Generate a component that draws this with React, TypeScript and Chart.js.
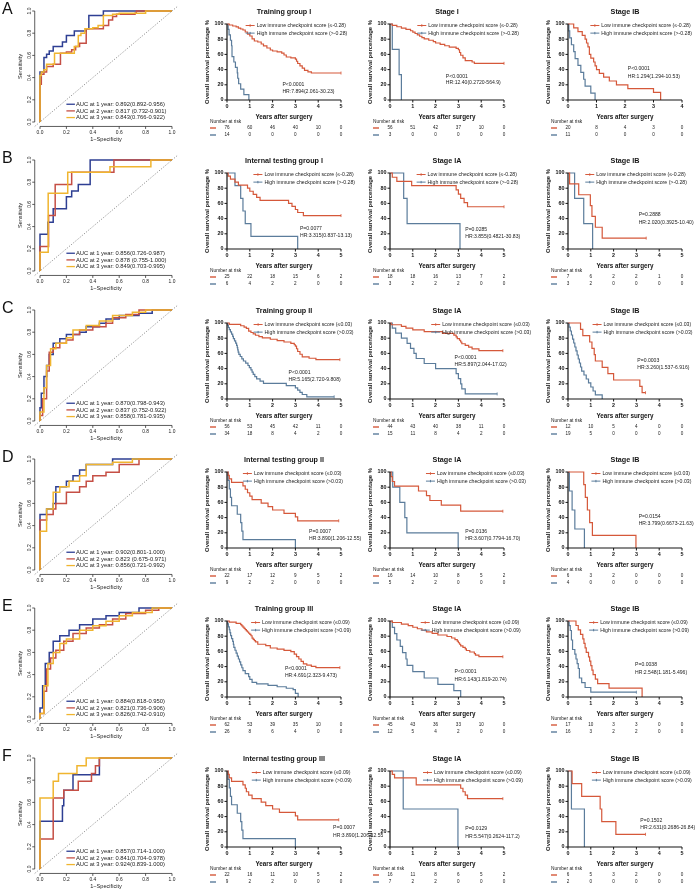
import React, { useEffect, useRef } from 'react';
import { Chart, registerables } from 'chart.js';
Chart.register(...registerables);

type Pt = [number, number];

// ---------------- DATA ----------------
const ROW_LETTERS = ['A', 'B', 'C', 'D', 'E', 'F'];
const ROC_TICKS = [0, 0.2, 0.4, 0.6, 0.8, 1];
const ROC_TICK_LABELS = ['0.0', '0.2', '0.4', '0.6', '0.8', '1.0'];
const KM_Y_TICKS = [0, 20, 40, 60, 80, 100];
const X_TICKS_5 = [0, 1, 2, 3, 4, 5];
const X_TICKS_4 = [0, 1, 2, 3, 4];
const ROC_DIAG: Pt[] = [[-0.04, -0.04], [1.04, 1.04]];

// ROC curves (1-specificity, sensitivity)
const ROC_A_1Y: Pt[] = [[0,0],[0,0.45],[0.03,0.58],[0.05,0.61],[0.07,0.64],[0.1,0.68],[0.17,0.72],[0.2,0.78],[0.26,0.82],[0.35,0.84],[0.37,0.96],[0.48,1],[1,1]];
const ROC_A_2Y: Pt[] = [[0,0],[0,0.34],[0.01,0.43],[0.03,0.45],[0.05,0.5],[0.1,0.52],[0.155,0.62],[0.2,0.63],[0.24,0.65],[0.27,0.68],[0.3,0.71],[0.35,0.84],[0.48,0.87],[0.52,0.92],[0.55,0.95],[0.58,0.97],[0.72,0.98],[0.73,1],[1,1]];
const ROC_A_3Y: Pt[] = [[0,0],[0,0.42],[0.01,0.45],[0.03,0.47],[0.05,0.52],[0.11,0.62],[0.26,0.68],[0.29,0.78],[0.31,0.8],[0.34,0.84],[0.4,0.85],[0.44,0.87],[0.48,0.96],[0.55,0.97],[0.6,0.98],[0.8,1],[1,1]];
const AUC_A = ['AUC at 1 year: 0.892(0.892-0.956)', 'AUC at 2 year: 0.817 (0.732-0.901)', 'AUC at 3 year: 0.843(0.766-0.922)'];

const ROC_B_1Y: Pt[] = [[0,0],[0,0.33],[0.06,0.44],[0.1,0.56],[0.2,0.67],[0.24,0.72],[0.29,0.78],[0.38,1],[1,1]];
const ROC_B_2Y: Pt[] = [[0,0],[0,0.22],[0.065,0.5],[0.115,0.78],[0.24,0.89],[0.56,1],[1,1]];
const ROC_B_3Y: Pt[] = [[0,0],[0,0.17],[0.062,0.7],[0.21,0.89],[0.53,0.94],[0.84,1],[1,1]];
const AUC_B = ['AUC at 1 year: 0.856(0.726-0.987)', 'AUC at 2 year: 0.878 (0.755-1.000)', 'AUC at 3 year: 0.849(0.703-0.995)'];

const ROC_C_1Y: Pt[] = [[0,0],[0,0.12],[0.01,0.25],[0.03,0.4],[0.05,0.5],[0.07,0.6],[0.1,0.7],[0.15,0.74],[0.2,0.78],[0.3,0.8],[0.35,0.85],[0.45,0.88],[0.5,0.92],[0.6,0.95],[0.75,0.97],[0.85,1],[1,1]];
const ROC_C_2Y: Pt[] = [[0,0],[0,0.05],[0.02,0.2],[0.05,0.45],[0.07,0.62],[0.1,0.66],[0.15,0.7],[0.2,0.73],[0.25,0.78],[0.3,0.82],[0.4,0.85],[0.5,0.88],[0.55,0.93],[0.65,0.96],[0.75,1],[1,1]];
const ROC_C_3Y: Pt[] = [[0,0],[0,0.08],[0.03,0.3],[0.05,0.5],[0.08,0.65],[0.12,0.7],[0.2,0.75],[0.25,0.82],[0.35,0.86],[0.45,0.9],[0.55,0.95],[0.7,0.98],[0.8,1],[1,1]];
const AUC_C = ['AUC at 1 year: 0.870(0.798-0.943)', 'AUC at 2 year: 0.837 (0.752-0.922)', 'AUC at 3 year: 0.858(0.781-0.935)'];

const ROC_D_1Y: Pt[] = [[0,0],[0,0.5],[0.05,0.55],[0.1,0.6],[0.12,0.75],[0.2,0.8],[0.25,0.85],[0.3,0.9],[0.35,0.95],[0.55,1],[1,1]];
const ROC_D_2Y: Pt[] = [[0,0],[0,0.45],[0.05,0.5],[0.1,0.55],[0.12,0.6],[0.2,0.7],[0.3,0.75],[0.35,0.8],[0.4,0.85],[0.5,0.88],[0.6,0.95],[0.75,1],[1,1]];
const ROC_D_3Y: Pt[] = [[0,0],[0,0.35],[0.05,0.55],[0.1,0.7],[0.15,0.75],[0.22,0.8],[0.3,0.85],[0.35,0.95],[0.55,0.97],[0.7,1],[1,1]];
const AUC_D = ['AUC at 1 year: 0.902(0.801-1.000)', 'AUC at 2 year: 0.823 (0.675-0.971)', 'AUC at 3 year: 0.856(0.721-0.992)'];

const ROC_E_1Y: Pt[] = [[0,0],[0,0.1],[0.02,0.3],[0.04,0.5],[0.07,0.6],[0.1,0.7],[0.15,0.75],[0.22,0.8],[0.3,0.85],[0.4,0.9],[0.5,0.93],[0.6,0.96],[0.75,1],[1,1]];
const ROC_E_2Y: Pt[] = [[0,0],[0,0.05],[0.03,0.25],[0.05,0.45],[0.08,0.55],[0.12,0.62],[0.18,0.7],[0.25,0.77],[0.35,0.82],[0.45,0.85],[0.55,0.9],[0.65,0.95],[0.8,0.98],[0.9,1],[1,1]];
const ROC_E_3Y: Pt[] = [[0,0],[0,0.05],[0.03,0.3],[0.06,0.5],[0.1,0.6],[0.15,0.68],[0.2,0.72],[0.3,0.8],[0.4,0.84],[0.5,0.88],[0.6,0.93],[0.7,0.96],[0.85,1],[1,1]];
const AUC_E = ['AUC at 1 year: 0.884(0.818-0.950)', 'AUC at 2 year: 0.821(0.736-0.906)', 'AUC at 3 year: 0.826(0.742-0.910)'];

const ROC_F_1Y: Pt[] = [[0,0],[0,0.43],[0.1,0.43],[0.17,0.57],[0.18,0.71],[0.25,0.85],[0.45,1],[1,1]];
const ROC_F_2Y: Pt[] = [[0,0],[0,0.27],[0.1,0.64],[0.18,0.71],[0.29,0.79],[0.39,0.86],[0.42,0.93],[0.45,1],[1,1]];
const ROC_F_3Y: Pt[] = [[0,0],[0,0.64],[0.1,0.79],[0.14,0.86],[0.28,0.93],[0.35,1],[1,1]];
const AUC_F = ['AUC at 1 year: 0.857(0.714-1.000)', 'AUC at 2 year: 0.841(0.704-0.978)', 'AUC at 3 year: 0.924(0.839-1.000)'];

// Kaplan-Meier curves (years, survival %)
const A1_LOW: Pt[] = [[0,100],[0.1,98.7],[0.25,97.4],[0.4,96.1],[0.5,94.7],[0.6,93.4],[0.7,92.1],[0.8,89.5],[0.9,86.8],[1.0,84.2],[1.1,80.3],[1.2,77.6],[1.35,76.3],[1.5,73.7],[1.6,71.1],[1.75,68.4],[1.9,65.8],[2.0,64.5],[2.2,63.2],[2.4,61.8],[2.5,59.2],[2.6,56.6],[2.8,55.3],[3.0,53.9],[3.05,51],[3.1,48],[3.2,45],[3.3,42],[3.4,39],[3.55,37],[3.7,35.5],[5,35.5]];
const A1_HIGH: Pt[] = [[0,100],[0.05,92.9],[0.09,85.7],[0.15,78.6],[0.2,71.4],[0.22,57.1],[0.3,50],[0.37,42.9],[0.45,35.7],[0.47,28.6],[0.51,21.4],[0.6,14.3],[0.74,7.1],[0.96,0]];
const A1_RISK_LOW = [76, 60, 46, 40, 10, 0];
const A1_RISK_HIGH = [14, 0, 0, 0, 0, 0];
const A2_LOW: Pt[] = [[0,100],[0.1,98.2],[0.3,96.4],[0.5,94.6],[0.7,92.9],[0.9,91.1],[1.0,89.3],[1.1,87.5],[1.2,85.7],[1.3,83.9],[1.4,82.1],[1.5,80.4],[1.7,78.6],[1.9,76.8],[2.0,75],[2.2,73.2],[2.4,71.4],[2.6,69.6],[2.9,67.9],[3.0,66.1],[3.05,62.5],[3.1,58.9],[3.2,55.4],[3.3,51.8],[3.6,50],[3.7,48.2],[5,48.2]];
const A2_HIGH: Pt[] = [[0,100],[0.1,66.7],[0.4,33.3],[0.5,0]];
const A2_RISK_LOW = [56, 51, 42, 37, 10, 0];
const A2_RISK_HIGH = [3, 0, 0, 0, 0, 0];
const A3_LOW: Pt[] = [[0,100],[0.2,95],[0.35,90],[0.5,85],[0.6,80],[0.65,75],[0.7,70],[0.75,60],[0.8,55],[0.9,50],[0.95,45],[1.0,40],[1.1,35],[1.25,30],[1.45,25],[1.7,20],[2.1,15],[3.0,10],[3.25,0]];
const A3_HIGH: Pt[] = [[0,100],[0.03,90.9],[0.06,81.8],[0.12,72.7],[0.2,63.6],[0.25,54.5],[0.35,45.5],[0.45,36.4],[0.55,27.3],[0.6,18.2],[0.8,9.1],[0.95,0]];
const A3_RISK_LOW = [20, 8, 4, 3, 0];
const A3_RISK_HIGH = [11, 0, 0, 0, 0];

const B1_LOW: Pt[] = [[0,100],[0.05,96],[0.15,92],[0.35,88],[0.5,84],[0.9,80],[1.0,76],[1.15,72],[1.3,68],[1.45,64],[2.7,60],[2.85,56],[3.0,52],[3.1,48],[3.35,44],[5,44]];
const B1_HIGH: Pt[] = [[0,100],[0.35,83.3],[0.6,66.7],[0.7,50],[0.8,33.3],[1.05,16.7],[3.1,0]];
const B1_RISK_LOW = [25, 22, 18, 15, 6, 2];
const B1_RISK_HIGH = [6, 4, 2, 2, 0, 0];
const B2_LOW: Pt[] = [[0,100],[0.1,94.4],[0.3,88.9],[0.95,83.3],[2.9,77.8],[3.0,72.2],[3.1,66.7],[3.25,61.1],[3.4,55.6],[5,55.6]];
const B2_HIGH: Pt[] = [[0,100],[0.6,66.7],[0.75,33.3],[3.07,0]];
const B2_RISK_LOW = [18, 18, 16, 13, 7, 2];
const B2_RISK_HIGH = [3, 2, 2, 2, 0, 0];
const B3_LOW: Pt[] = [[0,100],[0.07,85.7],[0.47,71.4],[0.98,57.1],[1.05,42.9],[1.2,28.6],[1.5,14.3],[3.43,14.3]];
const B3_HIGH: Pt[] = [[0,100],[0.29,66.7],[0.69,33.3],[1.08,0]];
const B3_RISK_LOW = [7, 6, 2, 2, 1, 0];
const B3_RISK_HIGH = [3, 2, 0, 0, 0, 0];

const C1_LOW: Pt[] = [[0,100],[0.1,98.2],[0.6,96.4],[0.75,94.6],[0.85,92.9],[0.95,89.3],[1.05,87.5],[1.15,85.7],[1.25,83.9],[1.4,82.1],[1.55,80.4],[1.9,78.6],[2.2,76.8],[2.5,75],[2.8,73.2],[2.95,71.4],[3.0,69.6],[3.05,66.1],[3.1,62.5],[3.2,58.9],[3.3,55.4],[3.6,53.6],[3.9,51.8],[4.95,51.8]];
const C1_HIGH: Pt[] = [[0,100],[0.03,97.1],[0.06,94.1],[0.1,91.2],[0.15,88.2],[0.2,85.3],[0.25,82.4],[0.28,79.4],[0.33,76.5],[0.38,73.5],[0.42,70.6],[0.45,67.6],[0.47,64.7],[0.49,61.8],[0.52,58.8],[0.58,55.9],[0.65,52.9],[0.72,50],[0.82,47.1],[0.92,44.1],[0.98,41.2],[1.05,38.2],[1.1,35.3],[1.15,32.4],[1.22,29.4],[1.3,26.5],[1.45,23.5],[1.6,20.6],[2.6,17.6],[3.0,14.7],[3.1,11.8],[3.2,8.8],[3.3,5.9],[3.5,2.9],[4.7,2.9]];
const C1_RISK_LOW = [56, 53, 45, 42, 11, 0];
const C1_RISK_HIGH = [34, 18, 8, 4, 2, 0];
const C2_LOW: Pt[] = [[0,100],[0.05,97.7],[0.5,95.5],[0.7,93.2],[1.0,90.9],[1.5,88.6],[2.3,86.4],[2.8,84.1],[2.9,81.8],[2.95,79.5],[3.05,77.3],[3.1,75],[3.15,72.7],[3.3,70.5],[3.45,68.2],[3.6,65.9],[3.9,63.6],[4.95,63.6]];
const C2_HIGH: Pt[] = [[0,100],[0.1,93.3],[0.25,86.7],[0.5,80],[0.75,73.3],[0.9,66.7],[1.05,60],[1.15,53.3],[1.5,46.7],[2.0,40],[2.9,33.3],[3.0,26.7],[3.1,20],[3.15,13.3],[3.3,6.7],[4.7,6.7]];
const C2_RISK_LOW = [44, 43, 40, 38, 11, 0];
const C2_RISK_HIGH = [15, 11, 8, 4, 2, 0];
const C3_LOW: Pt[] = [[0,100],[0.55,91.7],[0.65,83.3],[0.95,75],[1.05,66.7],[1.15,58.3],[1.2,50],[1.5,41.7],[1.75,33.3],[2.0,25],[3.15,16.7],[3.25,8.3],[3.4,8.3]];
const C3_HIGH: Pt[] = [[0,100],[0.05,94.7],[0.1,89.5],[0.15,84.2],[0.2,78.9],[0.25,73.7],[0.3,68.4],[0.35,63.2],[0.4,57.9],[0.45,52.6],[0.5,47.4],[0.55,42.1],[0.6,36.8],[0.7,31.6],[0.8,26.3],[0.9,21.1],[1.0,15.8],[1.1,10.5],[1.2,5.3],[1.5,0]];
const C3_RISK_LOW = [12, 10, 5, 4, 0, 0];
const C3_RISK_HIGH = [19, 5, 0, 0, 0, 0];

const D1_LOW: Pt[] = [[0,100],[0.05,95.5],[0.1,90.9],[0.2,86.4],[0.7,81.8],[0.8,77.3],[0.9,72.7],[1.0,68.2],[1.1,63.6],[1.5,59.1],[1.8,54.5],[2.0,50],[2.5,45.5],[3.0,40.9],[3.1,35.8],[4.9,35.8]];
const D1_HIGH: Pt[] = [[0,100],[0.05,88.9],[0.1,77.8],[0.15,66.7],[0.2,55.6],[0.45,44.4],[0.6,33.3],[0.65,22.2],[0.7,11.1],[3.0,0]];
const D1_RISK_LOW = [22, 17, 12, 9, 5, 2];
const D1_RISK_HIGH = [9, 2, 2, 0, 0, 0];
const D2_LOW: Pt[] = [[0,100],[0.05,93.8],[0.1,87.5],[0.2,81.3],[1.25,75],[1.6,68.8],[1.75,62.5],[2.25,56.3],[3.1,48.4],[4.95,48.4]];
const D2_HIGH: Pt[] = [[0,100],[0.12,80],[0.43,60],[0.65,40],[0.74,20],[2.99,0]];
const D2_RISK_LOW = [16, 14, 10, 8, 5, 2];
const D2_RISK_HIGH = [5, 2, 2, 0, 0, 0];
const D3_LOW: Pt[] = [[0,100],[0.69,83.3],[0.76,66.7],[0.85,50],[0.95,33.3],[1.07,16.7],[2.98,0]];
const D3_HIGH: Pt[] = [[0,100],[0.06,75],[0.18,50],[0.3,25],[0.72,0]];
const D3_RISK_LOW = [6, 3, 2, 0, 0, 0];
const D3_RISK_HIGH = [4, 0, 0, 0, 0, 0];

const E1_LOW: Pt[] = [[0,100],[0.1,98.4],[0.4,96.8],[0.6,95.2],[0.65,93.5],[0.7,91.9],[0.75,90.3],[0.8,88.7],[0.85,87.1],[0.9,85.5],[0.95,83.9],[1.0,82.3],[1.05,80.6],[1.1,77.4],[1.15,75.8],[1.2,74.2],[1.25,72.6],[1.35,69.4],[1.7,67.7],[1.9,64.5],[2.2,62.9],[2.5,61.3],[2.8,59.7],[2.95,56.5],[3.05,53.2],[3.15,50],[3.25,46.8],[3.35,43.5],[3.5,41.9],[3.7,40.3],[3.9,38.7],[4.95,38.7]];
const E1_HIGH: Pt[] = [[0,100],[0.03,96.2],[0.06,92.3],[0.1,88.5],[0.13,84.6],[0.16,80.8],[0.2,76.9],[0.25,73.1],[0.28,69.2],[0.3,65.4],[0.35,61.5],[0.4,57.7],[0.45,53.8],[0.5,50],[0.55,46.2],[0.6,42.3],[0.65,38.5],[0.7,34.6],[0.8,30.8],[0.95,26.9],[1.0,23.1],[1.1,19.2],[1.3,17.3],[1.8,15.4],[2.2,13.5],[2.6,11.5],[2.9,9.6],[3.0,4.8],[3.12,0]];
const E1_RISK_LOW = [62, 53, 39, 35, 10, 0];
const E1_RISK_HIGH = [26, 8, 6, 4, 0, 0];
const E2_LOW: Pt[] = [[0,100],[0.1,98],[0.5,95.9],[0.8,93.9],[1.0,91.8],[1.2,89.8],[1.4,87.8],[1.6,85.7],[1.85,83.7],[2.1,81.6],[2.5,79.6],[2.7,77.6],[2.85,75.5],[2.95,73.5],[3.0,71.4],[3.05,69.4],[3.1,67.3],[3.2,65.3],[3.3,63.3],[3.35,61.2],[3.5,59.2],[3.7,57.1],[3.75,55.1],[3.9,53],[4.95,53]];
const E2_HIGH: Pt[] = [[0,100],[0.1,91.7],[0.2,83.3],[0.3,75],[0.45,66.7],[0.55,58.3],[0.7,50],[0.75,41.7],[1.0,33.3],[1.5,25],[2.1,16.7],[2.8,8.3],[3.1,0]];
const E2_RISK_LOW = [45, 43, 36, 33, 10, 0];
const E2_RISK_HIGH = [12, 5, 4, 2, 0, 0];
const E3_LOW: Pt[] = [[0,100],[0.35,94.1],[0.45,88.2],[0.55,82.4],[0.65,76.5],[0.7,70.6],[0.75,64.7],[0.8,58.8],[0.9,52.9],[0.95,47.1],[1.0,41.2],[1.05,35.3],[1.1,29.4],[1.2,23.5],[1.3,17.6],[1.8,11.8],[3.25,0]];
const E3_HIGH: Pt[] = [[0,100],[0.05,93.8],[0.1,87.5],[0.15,75],[0.2,62.5],[0.3,56.3],[0.35,50],[0.4,43.8],[0.45,37.5],[0.5,25],[0.6,18.8],[0.75,12.5],[1.0,6.3],[3.0,6.3]];
const E3_RISK_LOW = [17, 10, 3, 3, 0, 0];
const E3_RISK_HIGH = [16, 3, 2, 2, 0, 0];

const F1_LOW: Pt[] = [[0,100],[0.05,95.5],[0.1,90.9],[0.2,86.4],[0.7,81.8],[0.8,77.3],[0.85,72.7],[0.95,68.2],[1.1,63.6],[1.5,59.1],[1.7,54.5],[2.0,50],[2.3,45.5],[3.0,40.9],[3.1,35.8],[4.9,35.8]];
const F1_HIGH: Pt[] = [[0,100],[0.05,88.9],[0.1,77.8],[0.15,66.7],[0.2,55.6],[0.45,44.4],[0.6,33.3],[0.65,22.2],[0.7,11.1],[3.0,0]];
const F1_RISK_LOW = [22, 16, 11, 10, 5, 2];
const F1_RISK_HIGH = [9, 2, 2, 0, 0, 0];
const F2_LOW: Pt[] = [[0,100],[0.1,95.5],[0.2,90.9],[1.15,81.8],[3.1,77.3],[3.2,72.7],[3.3,68.2],[3.4,63.6],[4.95,63.6]];
const F2_HIGH: Pt[] = [[0,100],[0.58,50],[2.98,0]];
const F2_RISK_LOW = [16, 11, 8, 6, 5, 2];
const F2_RISK_HIGH = [7, 2, 2, 0, 0, 0];
const F3_LOW: Pt[] = [[0,100],[0.18,83.3],[0.6,66.7],[1.41,50],[1.48,33.3],[2.1,16.7],[3.4,16.7]];
const F3_HIGH: Pt[] = [[0,100],[0.15,50],[0.72,0]];
const F3_RISK_LOW = [6, 5, 3, 2, 0, 0];
const F3_RISK_HIGH = [2, 0, 0, 0, 0, 0];

const CUTS = ['-0.28', '-0.28', '0.03', '0.03', '0.09', '0.09'];

interface KMPanel {
  title: string; p: string; hr: string;
  low: Pt[]; high: Pt[]; riskLow: number[]; riskHigh: number[]; xTicks: number[];
}
const km = (title: string, p: string, hr: string, low: Pt[], high: Pt[], riskLow: number[], riskHigh: number[], xTicks: number[] = X_TICKS_5): KMPanel =>
  ({ title, p, hr, low, high, riskLow, riskHigh, xTicks });

const KM_ROWS: KMPanel[][] = [
  [km('Training group I', 'P<0.0001', 'HR:7.894(2.061-30.23)', A1_LOW, A1_HIGH, A1_RISK_LOW, A1_RISK_HIGH),
   km('Stage I', 'P<0.0001', 'HR:12.40(0.2720-564.9)', A2_LOW, A2_HIGH, A2_RISK_LOW, A2_RISK_HIGH),
   km('Stage IB', 'P<0.0001', 'HR:1.294(1.294-10.53)', A3_LOW, A3_HIGH, A3_RISK_LOW, A3_RISK_HIGH, X_TICKS_4)],
  [km('Internal testing group I', 'P=0.0077', 'HR:3.315(0.837-13.13)', B1_LOW, B1_HIGH, B1_RISK_LOW, B1_RISK_HIGH),
   km('Stage IA', 'P=0.0285', 'HR:3.855(0.4821-30.83)', B2_LOW, B2_HIGH, B2_RISK_LOW, B2_RISK_HIGH),
   km('Stage IB', 'P=0.2888', 'HR:2.020(0.3925-10.40)', B3_LOW, B3_HIGH, B3_RISK_LOW, B3_RISK_HIGH)],
  [km('Training group II', 'P<0.0001', 'HR:5.165(2.720-9.808)', C1_LOW, C1_HIGH, C1_RISK_LOW, C1_RISK_HIGH),
   km('Stage IA', 'P<0.0001', 'HR:5.897(2.044-17.02)', C2_LOW, C2_HIGH, C2_RISK_LOW, C2_RISK_HIGH),
   km('Stage IB', 'P=0.0003', 'HR:3.260(1.537-6.916)', C3_LOW, C3_HIGH, C3_RISK_LOW, C3_RISK_HIGH)],
  [km('Internal testing group II', 'P=0.0007', 'HR:3.890(1.206-12.55)', D1_LOW, D1_HIGH, D1_RISK_LOW, D1_RISK_HIGH),
   km('Stage IA', 'P=0.0136', 'HR:3.607(0.7794-16.70)', D2_LOW, D2_HIGH, D2_RISK_LOW, D2_RISK_HIGH),
   km('Stage IB', 'P=0.0154', 'HR:3.799(0.6673-21.63)', D3_LOW, D3_HIGH, D3_RISK_LOW, D3_RISK_HIGH)],
  [km('Training group III', 'P<0.0001', 'HR:4.691(2.323-9.473)', E1_LOW, E1_HIGH, E1_RISK_LOW, E1_RISK_HIGH),
   km('Stage IA', 'P<0.0001', 'HR:6.143(1.819-20.74)', E2_LOW, E2_HIGH, E2_RISK_LOW, E2_RISK_HIGH),
   km('Stage IB', 'P=0.0038', 'HR:2.548(1.181-5.496)', E3_LOW, E3_HIGH, E3_RISK_LOW, E3_RISK_HIGH)],
  [km('Internal testing group III', 'P=0.0007', 'HR:3.890(1.206-12.55)', F1_LOW, F1_HIGH, F1_RISK_LOW, F1_RISK_HIGH),
   km('Stage IA', 'P=0.0129', 'HR:5.547(0.2624-117.2)', F2_LOW, F2_HIGH, F2_RISK_LOW, F2_RISK_HIGH),
   km('Stage IB', 'P=0.1502', 'HR:2.631(0.2686-26.84)', F3_LOW, F3_HIGH, F3_RISK_LOW, F3_RISK_HIGH)],
];

const ROC_ROWS: { curves: Pt[][]; labels: string[] }[] = [
  { curves: [ROC_A_1Y, ROC_A_2Y, ROC_A_3Y], labels: AUC_A },
  { curves: [ROC_B_1Y, ROC_B_2Y, ROC_B_3Y], labels: AUC_B },
  { curves: [ROC_C_1Y, ROC_C_2Y, ROC_C_3Y], labels: AUC_C },
  { curves: [ROC_D_1Y, ROC_D_2Y, ROC_D_3Y], labels: AUC_D },
  { curves: [ROC_E_1Y, ROC_E_2Y, ROC_E_3Y], labels: AUC_E },
  { curves: [ROC_F_1Y, ROC_F_2Y, ROC_F_3Y], labels: AUC_F },
];

// ---------------- LAYOUT / STYLE ----------------
// annotation anchors in data units: legend x (years), P/HR x (years), P y (%), HR y (%)
const KM_ANNOT: number[][][] = [
  [[1.3, 2.43, 20, 11], [1.68, 2.45, 31, 23], [1.17, 2.1, 41, 31]],
  [[1.64, 3.2, 27, 18], [1.65, 3.3, 25, 16], [1.24, 3.1, 45, 35]],
  [[1.65, 2.7, 35, 26], [2.29, 2.83, 54, 45], [1.56, 3.04, 50, 41]],
  [[1.18, 3.6, 22, 13], [2.06, 3.3, 21, 12], [1.51, 3.1, 41, 32]],
  [[1.54, 2.54, 38, 28], [1.83, 2.83, 33, 23], [1.41, 2.94, 42, 32]],
  [[1.57, 4.65, 25, 15], [1.93, 3.3, 24, 14], [1.53, 3.17, 35, 25]],
];

const FONT = '"Liberation Sans", Arial, Helvetica, sans-serif';
const INK = '#141414';
const LOW_COLOR = '#d5583a';
const HIGH_COLOR = '#5b7c9b';
const ROC_COLORS = ['#2e3f93', '#c54f45', '#f0b52f'];
const ROW_PITCH = 149.3;
const CANVAS_H = 149;
const KM_X0 = [227, 390, 568];
const KM_PLOT_W = 114;
const KM_PAD_L = 34;
const KM_W = 190;
const KM_TOP = 24;
const KM_BOTTOM = 100;
const ROC_W = 190;

function kmDecor(panel: KMPanel, cut: string, an: number[]) {
  return {
    id: 'kmDecor',
    afterDatasetsDraw(chart: any) {
      const ctx: CanvasRenderingContext2D = chart.ctx;
      const xs = chart.scales.x, ys = chart.scales.y;
      const { left: L, right: R, top: T, bottom: B } = chart.chartArea;
      const cx = (L + R) / 2;
      const seg = (x1: number, y1: number, x2: number, y2: number) => {
        ctx.beginPath(); ctx.moveTo(x1, y1); ctx.lineTo(x2, y2); ctx.stroke();
      };
      ctx.save();
      // censor ticks at the end of curves that stay above zero
      ([[panel.low, LOW_COLOR], [panel.high, HIGH_COLOR]] as [Pt[], string][]).forEach(([pts, col]) => {
        const last = pts[pts.length - 1];
        if (last[1] > 0) {
          ctx.strokeStyle = col; ctx.lineWidth = 0.8;
          const x = xs.getPixelForValue(last[0]), y = ys.getPixelForValue(last[1]);
          seg(x, y - 1.5, x, y + 1.5);
        }
      });
      ctx.fillStyle = INK; ctx.strokeStyle = INK;
      // title
      ctx.font = `bold 7.2px ${FONT}`; ctx.textAlign = 'center'; ctx.textBaseline = 'middle';
      ctx.fillText(panel.title, cx, T - 12);
      // axes
      ctx.lineWidth = 1.2;
      ctx.beginPath(); ctx.moveTo(L, T); ctx.lineTo(L, B); ctx.lineTo(R, B); ctx.stroke();
      ctx.lineWidth = 1;
      ctx.font = `bold 5.4px ${FONT}`;
      ctx.textAlign = 'right';
      for (const v of KM_Y_TICKS) {
        const y = ys.getPixelForValue(v);
        seg(L - 2.5, y, L, y);
        ctx.fillText(String(v), L - 3.5, y);
      }
      ctx.textAlign = 'center';
      for (const v of panel.xTicks) {
        const x = xs.getPixelForValue(v);
        seg(x, B, x, B + 2.5);
        ctx.fillText(String(v), x, B + 7);
      }
      // axis titles
      ctx.font = `bold 6.3px ${FONT}`;
      ctx.fillText('Years after surgery', cx, B + 17);
      ctx.save();
      ctx.translate(L - 20, (T + B) / 2);
      ctx.rotate(-Math.PI / 2);
      ctx.font = `bold 5.9px ${FONT}`;
      ctx.fillText('Overall survival percentage %', 0, 0);
      ctx.restore();
      // legend
      const lx = xs.getPixelForValue(an[0]);
      const legend: [string, string, number][] = [
        [LOW_COLOR, `Low immune checkpoint score (\u2264${cut})`, 98],
        [HIGH_COLOR, `High immune checkpoint score (>${cut})`, 88],
      ];
      ctx.font = `5.2px ${FONT}`; ctx.textAlign = 'left';
      for (const [col, text, yv] of legend) {
        const y = ys.getPixelForValue(yv);
        ctx.strokeStyle = col; ctx.lineWidth = 1;
        seg(lx - 11, y, lx - 2, y);
        seg(lx - 6.5, y - 1.2, lx - 6.5, y + 1.2);
        ctx.fillStyle = '#222';
        ctx.fillText(text, lx, y);
      }
      // P / HR
      ctx.fillStyle = '#222';
      ctx.font = `5.1px ${FONT}`;
      const px = xs.getPixelForValue(an[1]);
      ctx.fillText(panel.p, px, ys.getPixelForValue(an[2]));
      ctx.fillText(panel.hr, px, ys.getPixelForValue(an[3]));
      // number at risk
      ctx.font = `4.8px ${FONT}`;
      ctx.fillText('Number at risk', L - 17, B + 22);
      const rows: [string, number[], number][] = [[LOW_COLOR, panel.riskLow, B + 28], [HIGH_COLOR, panel.riskHigh, B + 35]];
      for (const [col, vals, y] of rows) {
        ctx.strokeStyle = col; ctx.lineWidth = 1.4;
        seg(L - 17, y, L - 11, y);
        ctx.fillStyle = '#222'; ctx.textAlign = 'center'; ctx.font = `4.6px ${FONT}`;
        vals.forEach((v, i) => ctx.fillText(String(v), xs.getPixelForValue(panel.xTicks[i]), y));
        ctx.textAlign = 'left';
      }
      ctx.restore();
    },
  };
}

function rocDecor(labels: string[]) {
  return {
    id: 'rocDecor',
    afterDatasetsDraw(chart: any) {
      const ctx: CanvasRenderingContext2D = chart.ctx;
      const xs = chart.scales.x, ys = chart.scales.y;
      const { left: L, bottom: B } = chart.chartArea;
      const x0 = xs.getPixelForValue(0), x1 = xs.getPixelForValue(1);
      const y0 = ys.getPixelForValue(0), y1 = ys.getPixelForValue(1);
      const seg = (a: number, b: number, c: number, d: number) => {
        ctx.beginPath(); ctx.moveTo(a, b); ctx.lineTo(c, d); ctx.stroke();
      };
      ctx.save();
      ctx.strokeStyle = '#333'; ctx.fillStyle = '#222'; ctx.lineWidth = 0.8;
      seg(x0, B, x1, B);
      seg(L, y0, L, y1);
      ctx.font = `4.9px ${FONT}`; ctx.textAlign = 'center'; ctx.textBaseline = 'middle';
      ROC_TICKS.forEach((v, i) => {
        const x = xs.getPixelForValue(v);
        seg(x, B, x, B + 2.5);
        ctx.fillText(ROC_TICK_LABELS[i], x, B + 5.8);
        const y = ys.getPixelForValue(v);
        seg(L - 2.5, y, L, y);
        ctx.save(); ctx.translate(L - 5, y); ctx.rotate(-Math.PI / 2);
        ctx.fillText(ROC_TICK_LABELS[i], 0, 0); ctx.restore();
      });
      ctx.font = `5.6px ${FONT}`;
      ctx.fillText('1\u2212Specificity', (x0 + x1) / 2, B + 13.5);
      ctx.save(); ctx.translate(L - 14.5, (y0 + y1) / 2); ctx.rotate(-Math.PI / 2);
      ctx.fillText('Sensitivity', 0, 0); ctx.restore();
      // legend
      const lx = xs.getPixelForValue(0.2);
      const ly = [0.16, 0.1, 0.04];
      ctx.textAlign = 'left'; ctx.font = `5.8px ${FONT}`;
      labels.forEach((t, i) => {
        const y = ys.getPixelForValue(ly[i]);
        ctx.strokeStyle = ROC_COLORS[i]; ctx.lineWidth = 1.3;
        seg(lx, y, lx + 8.5, y);
        ctx.fillStyle = '#222';
        ctx.fillText(t, lx + 9.5, y);
      });
      ctx.restore();
    },
  };
}

const toXY = (pts: Pt[]) => pts.map(([x, y]) => ({ x, y }));

function KMChart({ panel, cut, annot, left, top }: { panel: KMPanel; cut: string; annot: number[]; left: number; top: number }) {
  const ref = useRef<HTMLCanvasElement>(null);
  useEffect(() => {
    const xMax = panel.xTicks[panel.xTicks.length - 1];
    const chart = new Chart(ref.current as HTMLCanvasElement, {
      type: 'line',
      data: {
        datasets: [
          { data: toXY(panel.low), borderColor: LOW_COLOR, borderWidth: 1.2, stepped: 'before', pointRadius: 0, fill: false, clip: false } as any,
          { data: toXY(panel.high), borderColor: HIGH_COLOR, borderWidth: 1.2, stepped: 'before', pointRadius: 0, fill: false, clip: false } as any,
        ],
      },
      options: {
        responsive: false, animation: false, devicePixelRatio: 1, events: [],
        layout: { padding: { left: KM_PAD_L, right: KM_W - KM_PAD_L - KM_PLOT_W, top: KM_TOP, bottom: CANVAS_H - KM_BOTTOM } },
        scales: {
          x: { type: 'linear', min: 0, max: xMax, display: false },
          y: { type: 'linear', min: 0, max: 100, display: false },
        },
        plugins: { legend: { display: false }, tooltip: { enabled: false }, title: { display: false } },
      },
      plugins: [kmDecor(panel, cut, annot)],
    });
    return () => chart.destroy();
  }, []);
  return <canvas ref={ref} width={KM_W} height={CANVAS_H} style={{ position: 'absolute', left, top, width: KM_W, height: CANVAS_H }} />;
}

function ROCChart({ curves, labels, top }: { curves: Pt[][]; labels: string[]; top: number }) {
  const ref = useRef<HTMLCanvasElement>(null);
  useEffect(() => {
    const unitX = 132, unitY = 111;
    const left = 40 - 0.04 * unitX, right = 40 + 1.04 * unitX;
    const t = 11 - 0.04 * unitY, b = 11 + 1.04 * unitY;
    const chart = new Chart(ref.current as HTMLCanvasElement, {
      type: 'line',
      data: {
        datasets: [
          { data: toXY(ROC_DIAG), borderColor: '#777', borderWidth: 0.8, borderDash: [1.2, 1.6], pointRadius: 0, fill: false, clip: false } as any,
          ...[2, 1, 0].map((i) => ({ data: toXY(curves[i]), borderColor: ROC_COLORS[i], borderWidth: 1.5, stepped: 'before', pointRadius: 0, fill: false, clip: false } as any)),
        ],
      },
      options: {
        responsive: false, animation: false, devicePixelRatio: 1, events: [],
        layout: { padding: { left, right: ROC_W - right, top: t, bottom: CANVAS_H - b } },
        scales: {
          x: { type: 'linear', min: -0.04, max: 1.04, display: false },
          y: { type: 'linear', min: -0.04, max: 1.04, display: false },
        },
        plugins: { legend: { display: false }, tooltip: { enabled: false }, title: { display: false } },
      },
      plugins: [rocDecor(labels)],
    });
    return () => chart.destroy();
  }, []);
  return <canvas ref={ref} width={ROC_W} height={CANVAS_H} style={{ position: 'absolute', left: 0, top, width: ROC_W, height: CANVAS_H }} />;
}

export default function App() {
  return (
    <div style={{ position: 'absolute', left: 0, top: 0, width: 696, height: 895, background: '#fff', overflow: 'hidden' }}>
      {ROW_LETTERS.map((letter, r) => {
        const top = Math.round(r * ROW_PITCH);
        return (
          <React.Fragment key={letter}>
            <ROCChart curves={ROC_ROWS[r].curves} labels={ROC_ROWS[r].labels} top={top} />
            {KM_ROWS[r].map((panel, c) => (
              <KMChart key={c} panel={panel} cut={CUTS[r]} annot={KM_ANNOT[r][c]} left={KM_X0[c] - KM_PAD_L} top={top} />
            ))}
            <div style={{ position: 'absolute', left: 2, top: top, fontFamily: FONT, fontSize: 16, lineHeight: '18px', color: '#111' }}>{letter}</div>
          </React.Fragment>
        );
      })}
    </div>
  );
}
